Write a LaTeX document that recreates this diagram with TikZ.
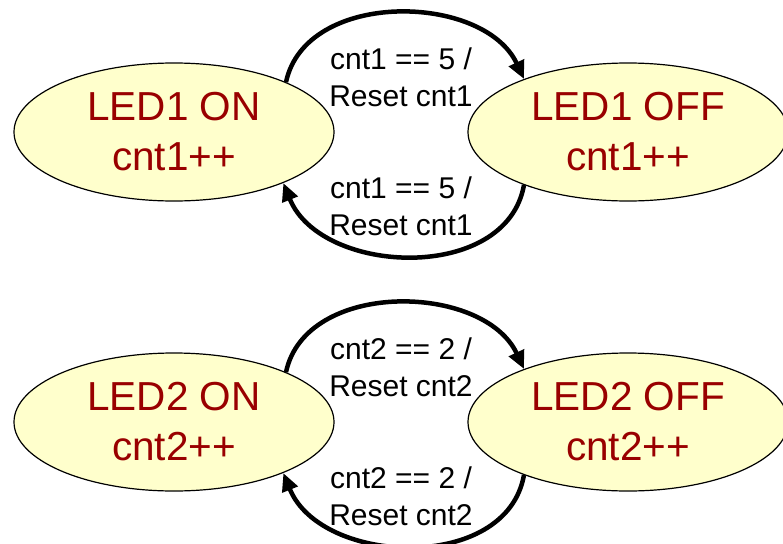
\documentclass[tikz,border=0pt]{standalone}
\usepackage{fontspec}
\setmainfont{Liberation Sans}
\usetikzlibrary{shapes.geometric,arrows.meta}
\definecolor{statefill}{HTML}{FFFFCC}
\definecolor{statetext}{HTML}{990000}
\tikzset{
	state/.style = {draw, ellipse, fill = statefill, text = statetext, line width = 1.2pt,
		minimum width = 320pt, minimum height = 138pt, inner sep = 0pt, align = center,
		font = \fontsize{40.5}{50}\selectfont},
	guard/.style = {align = center, inner sep = 0pt, font = \fontsize{30}{37}\selectfont},
	trans/.style = {line width = 4.5pt, -{Triangle[length = 18pt, width = 16pt]}}
}
\begin{document}
\begin{tikzpicture}[x = 1pt, y = 1pt]
		\useasboundingbox (0,0) rectangle (783,-543);

		\node[state] (A) at (174,-132) {LED1 ON\\cnt1++};
		\node[state] (B) at (628,-132) {LED1 OFF\\cnt1++};
		\node[state] (C) at (174,-422) {LED2 ON\\cnt2++};
		\node[state] (D) at (628,-422) {LED2 OFF\\cnt2++};

		\node[guard] (E) at (401,-77) {cnt1 == 5 /\\Reset cnt1};
		\node[guard] (F) at (401,-206) {cnt1 == 5 /\\Reset cnt1};
		\node[guard] (G) at (401,-367) {cnt2 == 2 /\\Reset cnt2};
		\node[guard] (H) at (401,-496) {cnt2 == 2 /\\Reset cnt2};

		\draw[trans] (A.24) .. controls +(78:95) and +(115:95) .. (B.153);
		\draw[trans] (B.207) .. controls +(-100:100) and +(-68:100) .. (A.-25);
		\draw[trans] (C.24) .. controls +(78:95) and +(115:95) .. (D.153);
		\draw[trans] (D.207) .. controls +(-100:100) and +(-68:100) .. (C.-25);
\end{tikzpicture}
\end{document}
